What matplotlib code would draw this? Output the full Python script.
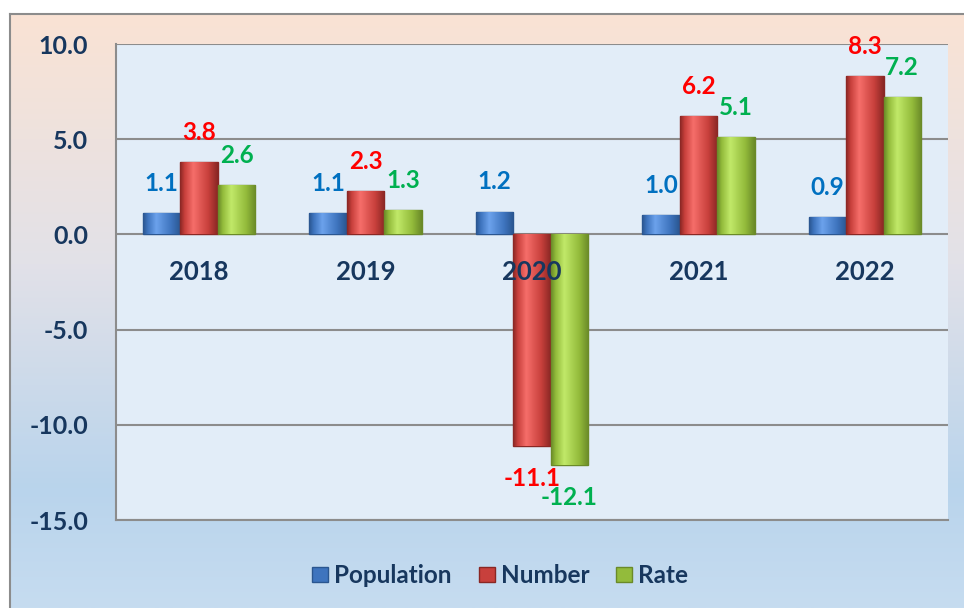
import numpy as np
import matplotlib
matplotlib.use("Agg")
import matplotlib.pyplot as plt
from matplotlib.colors import LinearSegmentedColormap, to_rgb
from matplotlib.patches import Patch

plt.rcParams['font.family'] = ['Lato', 'DejaVu Sans']
plt.rcParams['font.weight'] = 'bold'

# datos
years = ['2018', '2019', '2020', '2021', '2022']
population = [1.1, 1.1, 1.2, 1.0, 0.9]
number = [3.8, 2.3, -11.1, 6.2, 8.3]
rate = [2.6, 1.3, -12.1, 5.1, 7.2]
series_names = ['Population', 'Number', 'Rate']

bar_colors = ['#3E74BE', '#C8403C', '#93BB3B']
edge_colors = ['#2A5690', '#8A2724', '#6A8A28']
label_colors = ['#0070C0', '#FF0000', '#00B050']
navy = '#17375E'

fig = plt.figure(figsize=(9.64, 6.08), dpi=100)
fig.patch.set_facecolor('white')

# fondo degradado del area del grafico
bg = fig.add_axes([10 / 964, 0, 1 - 10 / 964, 1 - 14 / 608])
bg_cmap = LinearSegmentedColormap.from_list(
    'bg', [(0, '#FAE3D4'), (0.42, '#E2E1E8'), (0.8, '#B9D4EC'), (1, '#C6DCF0')])
bg.imshow(np.linspace(0, 1, 256).reshape(-1, 1), cmap=bg_cmap, aspect='auto',
          extent=[0, 1, 0, 1])
bg.set_xlim(0, 1)
bg.set_ylim(0, 1)
bg.set_xticks([])
bg.set_yticks([])
for side in ['right', 'bottom']:
    bg.spines[side].set_visible(False)
for side in ['left', 'top']:
    bg.spines[side].set_color('#8C8C8C')
    bg.spines[side].set_linewidth(1.5)
bg.set_zorder(0)

ax = fig.add_axes([116 / 964, 1 - 520 / 608, (948 - 116) / 964, (520 - 44) / 608])
ax.set_zorder(1)
ax.set_facecolor('#E2EDF8')

x = np.arange(len(years))
width = 0.225
offsets = [-width, 0, width]
all_series = [population, number, rate]


def gradient_bar(rect, base, edge):
    # degradado horizontal simple para imitar el bisel
    c = np.array(to_rgb(base))
    light = np.clip(c + 0.18, 0, 1)
    dark = np.array(to_rgb(edge))
    cmap = LinearSegmentedColormap.from_list(
        'g', [(0, dark), (0.12, c), (0.35, light), (0.75, c), (1, dark)])
    bx, by = rect.get_x(), rect.get_y()
    bw, bh = rect.get_width(), rect.get_height()
    im = ax.imshow(np.linspace(0, 1, 64).reshape(1, -1), cmap=cmap, aspect='auto',
                   extent=[bx, bx + bw, by, by + bh], zorder=3)
    im.set_clip_path(rect)


for i, (vals, off) in enumerate(zip(all_series, offsets)):
    bars = ax.bar(x + off, vals, width, color=bar_colors[i], edgecolor=edge_colors[i],
                  linewidth=1.0, zorder=3, label=series_names[i])
    for rect in bars:
        gradient_bar(rect, bar_colors[i], edge_colors[i])
    for xi, v in zip(x + off, vals):
        ax.annotate(f'{v:.1f}', (xi, v), xytext=(0, 13 if v >= 0 else -15),
                    textcoords='offset points', ha='center',
                    va='bottom' if v >= 0 else 'top', fontsize=17.5,
                    fontweight='bold', color=label_colors[i], zorder=5)

ax.set_xlim(-0.5, 4.5)
ax.set_ylim(-15, 10)
ax.set_yticks(np.arange(-15, 10.1, 5))
ax.set_yticklabels([f'{t:.1f}' for t in np.arange(-15, 10.1, 5)])
ax.tick_params(axis='y', length=0, pad=20, labelsize=18, labelcolor=navy)
ax.set_xticks([])
ax.grid(axis='y', color='#8C8C8C', linewidth=1.5, zorder=1)
ax.set_axisbelow(True)
for side in ['top', 'right']:
    ax.spines[side].set_visible(False)
for side in ['left', 'bottom']:
    ax.spines[side].set_color('#8C8C8C')
    ax.spines[side].set_linewidth(1.5)

# etiquetas de categoria debajo del eje cero
for xi, yr in zip(x, years):
    ax.text(xi, -2.0, yr, ha='center', va='center', fontsize=18.5,
            fontweight='bold', color=navy, zorder=6)

handles = [Patch(facecolor=bar_colors[i], edgecolor=edge_colors[i]) for i in range(3)]
leg = fig.legend(handles, series_names, loc='center', bbox_to_anchor=(0.519, 0.053),
                 ncol=3, frameon=False, handlelength=0.66, handleheight=0.6,
                 handletextpad=0.25, columnspacing=1.1, fontsize=17.5)
for t in leg.get_texts():
    t.set_color(navy)
    t.set_fontweight('bold')

plt.savefig('out.png', dpi=100)
